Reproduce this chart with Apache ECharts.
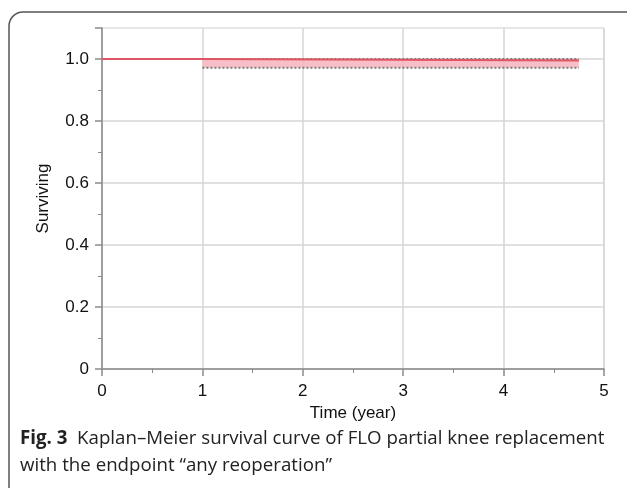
<!DOCTYPE html>
<html>
<head>
<meta charset="utf-8">
<script src="https://cdn.jsdelivr.net/npm/echarts@6/dist/echarts.min.js"></script>
<style>
  html, body { margin: 0; padding: 0; background: #fff; }
  #main { width: 627px; height: 488px; }
</style>
</head>
<body>
<div id="main"></div>
<script>
// Kaplan-Meier values
var kmTime = [0, 1, 4.75];
var kmSurv = [1, 0.995, 0.995];
var ciTime = [1, 4.75];
var ciUpper = [1.0, 1.0];
var ciLower = [0.972, 0.972];

var myChart = echarts.init(document.getElementById('main'));

function pairs(xs, ys) {
    var out = [];
    for (var i = 0; i < xs.length; i++) out.push([xs[i], ys[i]]);
    return out;
}

var option = {
    animation: false,
    grid: { left: 102, right: 23, top: 28, bottom: 119, show: true, borderColor: '#cfcfcf', borderWidth: 1 },
    xAxis: {
        type: 'value', min: 0, max: 5, interval: 1,
        name: 'Time (year)', nameLocation: 'middle', nameGap: 35,
        nameTextStyle: { fontFamily: 'Liberation Sans', fontSize: 17, color: '#111' },
        axisLine: { show: true, lineStyle: { color: '#8a8a8a', width: 1.5 } },
        axisTick: { show: true, length: 7, lineStyle: { color: '#8a8a8a', width: 1.5 } },
        minorTick: { show: true, splitNumber: 2, length: 4, lineStyle: { color: '#8a8a8a' } },
        axisLabel: { margin: 14, fontFamily: 'Liberation Sans', fontSize: 17, color: '#111' },
        splitLine: { show: true, lineStyle: { color: '#d6d6d6', width: 1.5 } }
    },
    yAxis: {
        type: 'value', min: 0, max: 1.1, interval: 0.2,
        name: 'Surviving', nameLocation: 'middle', nameGap: 50,
        nameTextStyle: { fontFamily: 'Liberation Sans', fontSize: 17, color: '#111' },
        axisLine: { show: true, lineStyle: { color: '#8a8a8a', width: 1.5 } },
        axisTick: { show: true, length: 7, lineStyle: { color: '#8a8a8a', width: 1.5 } },
        minorTick: { show: true, splitNumber: 2, length: 4, lineStyle: { color: '#8a8a8a' } },
        axisLabel: {
            margin: 13, showMaxLabel: false,
            fontFamily: 'Liberation Sans', fontSize: 17, color: '#111',
            formatter: function (v) { return v === 0 ? '0' : v.toFixed(1); }
        },
        splitLine: { show: true, showMaxLine: false, lineStyle: { color: '#d6d6d6', width: 1.5 } }
    },
    series: [
        {
            name: 'band', type: 'line', data: [], silent: true,
            markArea: {
                silent: true,
                itemStyle: { color: 'rgba(248,180,190,0.85)' },
                data: [[{ coord: [ciTime[0], ciLower[0]] }, { coord: [ciTime[1], ciUpper[1]] }]]
            }
        },
        {
            name: 'upper', type: 'line', data: pairs(ciTime, ciUpper), symbol: 'none',
            lineStyle: { color: '#7a7a7a', width: 2, type: [2, 2] }
        },
        {
            name: 'lower', type: 'line', data: pairs(ciTime, ciLower), symbol: 'none',
            lineStyle: { color: '#7a7a7a', width: 2, type: [2, 2] }
        },
        {
            name: 'survival', type: 'line', step: 'end', data: pairs(kmTime, kmSurv), symbol: 'none',
            lineStyle: { color: '#e05563', width: 2 }
        }
    ],
    graphic: [
        {
            type: 'rect', silent: true,
            shape: { x: 9, y: 12, width: 660, height: 520, r: 14 },
            style: { fill: 'none', stroke: '#555', lineWidth: 1.5 }
        },
        {
            type: 'text', left: 20, top: 425,
            style: {
                text: '{b|Fig. 3}  Kaplan–Meier survival curve of FLO partial knee replacement\nwith the endpoint \u201cany reoperation\u201d',
                fontFamily: 'Open Sans', fontSize: 18.7, lineHeight: 27, fill: '#222',
                rich: { b: { fontFamily: 'Open Sans', fontWeight: 'bold', fontSize: 18.7, fill: '#222' } }
            }
        }
    ]
};

myChart.setOption(option);
</script>
</body>
</html>
